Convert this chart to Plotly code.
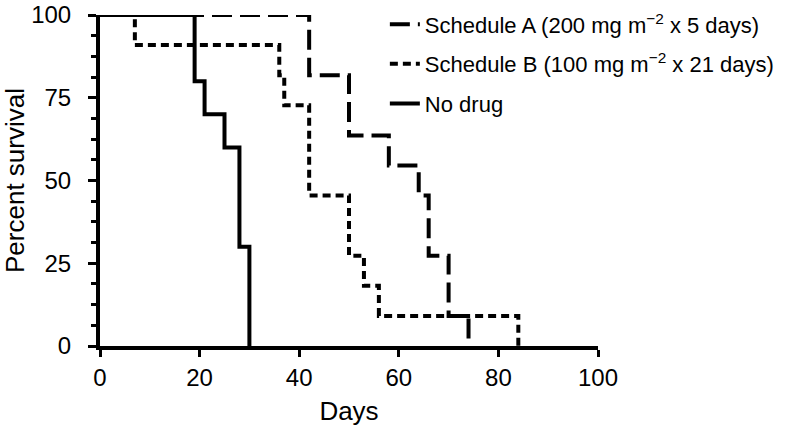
import plotly.graph_objects as go

# Kaplan-Meier step data (days, percent survival)
days_a = [0, 42, 50, 58, 64, 66, 70, 74]
surv_a = [100, 81.8, 63.6, 54.5, 45.5, 27.3, 9.1, 0]

days_b = [0, 7, 36, 37, 42, 50, 53, 56, 84]
surv_b = [100, 90.9, 81.8, 72.7, 45.5, 27.3, 18.2, 9.1, 0]

days_none = [0, 19, 21, 25, 28, 30]
surv_none = [100, 80, 70, 60, 30, 0]

names = ["Schedule A (200 mg m<sup>\u22122</sup> x 5 days)",
         "Schedule B (100 mg m<sup>\u22122</sup> x 21 days)",
         "No drug"]

x_ticks = [0, 20, 40, 60, 80, 100]
y_ticks = [0, 25, 50, 75, 100]

FONT = "Liberation Sans, Arial, Helvetica, sans-serif"

fig = go.Figure()
fig.add_trace(go.Scatter(x=days_a, y=surv_a, mode="lines", name=names[0], legendgroup="a",
                         line=dict(color="black", width=4, shape="hv", dash="20px,8px"),
                         cliponaxis=False))
fig.add_trace(go.Scatter(x=days_b, y=surv_b, mode="lines", name=names[1], legendgroup="b",
                         line=dict(color="black", width=4, shape="hv", dash="8px,5px"),
                         cliponaxis=False))
fig.add_trace(go.Scatter(x=days_none, y=surv_none, mode="lines", name=names[2], legendgroup="c",
                         line=dict(color="black", width=4, shape="hv"),
                         cliponaxis=False))

fig.update_layout(
    width=796, height=426,
    margin=dict(l=100, r=198, t=15, b=80, autoexpand=False),
    paper_bgcolor="white", plot_bgcolor="white",
    font=dict(family=FONT, size=24, color="black"),
    showlegend=True,
    legend=dict(x=0.572, y=1.035, xanchor="left", yanchor="top",
                font=dict(size=22, family=FONT, color="black"),
                bgcolor="rgba(0,0,0,0)", itemwidth=30, tracegroupgap=8),
    xaxis=dict(range=[0, 100], tickvals=x_ticks, showgrid=False, zeroline=False,
               automargin=False, ticklabeloverflow="allow",
               showline=True, linewidth=4, linecolor="black",
               ticks="outside", ticklen=7, tickwidth=3, tickcolor="black",
               tickfont=dict(size=24),
               title=dict(text="Days", standoff=14, font=dict(size=26))),
    yaxis=dict(range=[0, 100], tickvals=y_ticks, showgrid=False, zeroline=False,
               automargin=False, ticklabeloverflow="allow",
               showline=True, linewidth=4, linecolor="black",
               ticks="outside", ticklen=8, tickwidth=3, tickcolor="black",
               tickfont=dict(size=24), ticklabelstandoff=12,
               minor=dict(dtick=6.25, tick0=0, ticks="outside", ticklen=5,
                          tickwidth=3, tickcolor="black", showgrid=False),
               title=dict(text="Percent survival", standoff=8, font=dict(size=26))),
)

fig.write_html("out.html", config={"displayModeBar": False},
               post_script="document.body.style.margin='0px';")
